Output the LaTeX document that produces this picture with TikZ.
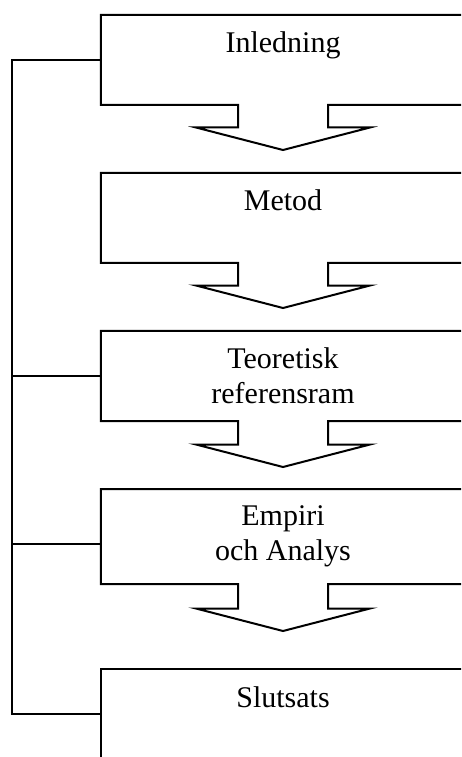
\documentclass[tikz,border=0pt]{standalone}
\usepackage{fontspec}
\setmainfont{Liberation Serif}
\usetikzlibrary{shapes.arrows}

\begin{document}
\begin{tikzpicture}[x=0.4pt, y=-0.4pt,
    box/.style={
        rectangle, draw=black, line width=0.8pt, outer sep=0pt,
        minimum width=145.6pt, minimum height=36pt, align=center,
        font=\fontsize{12}{14}\selectfont
    },
    stage/.style={
        box, arrow box,
        arrow box shaft width=36pt, arrow box head extend=16.8pt,
        arrow box head indent=0pt, arrow box tip angle=151
    },
    oneline/.style={text height=8pt, text depth=13.6pt},
    link/.style={line width=0.8pt}
]
\useasboundingbox (0,0) rectangle (461,757);
\clip (0,0) rectangle (461,757);

\node[stage, oneline, arrow box arrows={south:18pt}] (intro) at (283,60)    {Inledning};
\node[stage, oneline, arrow box arrows={south:18pt}] (method) at (283,218)  {Metod};
\node[stage, arrow box arrows={south:18.4pt}] (theory) at (283,376)         {Teoretisk\\referensram};
\node[stage, minimum height=38pt, arrow box arrows={south:18.8pt}] (empiric) at (283,536.5) {Empiri\\och Analys};
\node[box, oneline] (concl) at (283,714)                                    {Slutsats};

\coordinate (spine) at (12,0);

\draw[link] (intro.west) -- (intro.west -| spine) -- (concl.west -| spine) -- (concl.west);
\draw[link] (theory.west) -- (theory.west -| spine);
\draw[link] ([yshift=-3pt]empiric.west) -- ([yshift=-3pt]empiric.west -| spine);

\end{tikzpicture}
\end{document}
